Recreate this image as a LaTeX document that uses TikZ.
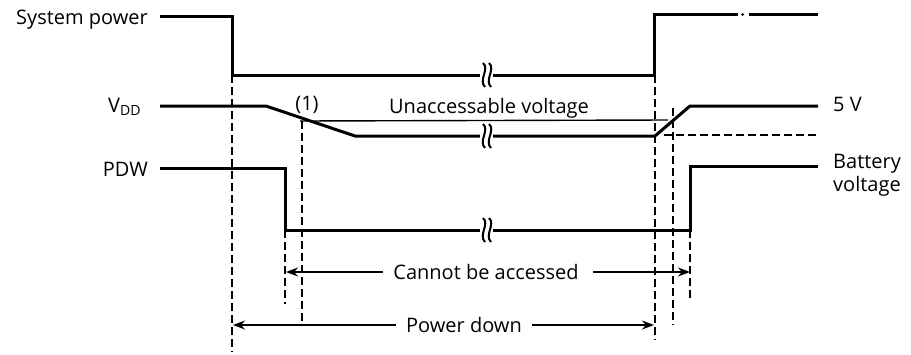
\documentclass[tikz,border=0pt]{standalone}
\usepackage{fontspec}
\setmainfont{Open Sans}
\usetikzlibrary{arrows.meta}
\tikzset{
  sig/.style={line width=3pt, line join=miter},
  thin/.style={line width=1.4pt},
  guide/.style={line width=1.6pt, dash pattern=on 8pt off 4pt},
  dim/.style={line width=1.4pt, -{Stealth[length=12pt,width=9pt]}},
  lbl/.style={font=\fontsize{20}{23}\selectfont, inner sep=0pt},
  brk/.style={line width=2pt}
}
\newcommand{\brkmark}[2]{%
  \fill[white] (#1-6,#2-3) rectangle (#1+7,#2+3);
  \draw[brk] (#1-3,#2-12) .. controls (#1+4,#2-6) and (#1-8,#2+5) .. (#1-1,#2+12);
  \draw[brk] (#1+3,#2-12) .. controls (#1+10,#2-6) and (#1-2,#2+5) .. (#1+5,#2+12);
}
\begin{document}
\begin{tikzpicture}[x=1pt,y=-1pt]
\useasboundingbox (0,0) rectangle (911,354);
% labels
\node[lbl, anchor=base east] (sp) at (148,24) {System power};
\node[lbl, anchor=base west] (vdd) at (108,112) {V\textsubscript{DD}};
\node[lbl, anchor=base east] (pdw) at (148,176) {PDW};
\node[lbl, anchor=base west] (fv) at (833,111) {5 V};
\node[lbl, anchor=west, align=left] (bv) at (833,175) {Battery\\voltage};
\node[lbl, anchor=base] (one) at (307,110) {(1)};
\node[lbl, anchor=base] (ua) at (489,113) {Unaccessable voltage};
\node[lbl, anchor=base] (cba) at (486,279) {Cannot be accessed};
\node[lbl, anchor=base] (pd) at (464,332) {Power down};
% coordinates
\coordinate (s0) at (160,16);
\coordinate (s1) at (232,16);
\coordinate (s2) at (232,75);
\coordinate (s3) at (654,75);
\coordinate (s4) at (654,14);
\coordinate (s5) at (738,14);
\coordinate (s6) at (749,14);
\coordinate (s7) at (818,14);
\coordinate (v0) at (160,106);
\coordinate (v1) at (266,106);
\coordinate (v2) at (355,136);
\coordinate (v3) at (655,136);
\coordinate (v4) at (690,106);
\coordinate (v5) at (818,106);
\coordinate (p0) at (160,168);
\coordinate (p1) at (285,168);
\coordinate (p2) at (285,230);
\coordinate (p3) at (690,230);
\coordinate (p4) at (690,166);
\coordinate (p5) at (818,166);
% signals
\draw[sig] (s0) -- (s1) -- (s2) -- (s3) -- (s4) -- (s5);
\draw[sig] (s6) -- (s7);
\fill (742.5,14.5) circle (1.5pt);
\draw[sig] (v0) -- (v1) -- (v2) -- (v3) -- (v4) -- (v5);
\draw[sig] (p0) -- (p1) -- (p2) -- (p3) -- (p4) -- (p5);
% unaccessable voltage level
\coordinate (u0) at (300,121);
\coordinate (u1) at (668,120);
\draw[thin] (u0) -- (u1);
\coordinate (d0) at (664,135);
\coordinate (d1) at (818,135);
\draw[guide] (d0) -- (d1);
% breaks
\brkmark{486}{75}
\brkmark{486}{136}
\brkmark{486}{230}
% guide lines
\coordinate (g1a) at (232,75);  \coordinate (g1b) at (232,352);
\coordinate (g2a) at (302,121); \coordinate (g2b) at (302,325);
\coordinate (g3a) at (285,230); \coordinate (g3b) at (285,304);
\coordinate (g4a) at (655,75);  \coordinate (g4b) at (655,340);
\coordinate (g5a) at (673,108); \coordinate (g5b) at (673,325);
\coordinate (g6a) at (690,230); \coordinate (g6b) at (690,300);
\foreach \a/\b in {g1a/g1b,g2a/g2b,g3a/g3b,g4a/g4b,g5a/g5b,g6a/g6b}
  \draw[guide] (\a) -- (\b);
% dimension arrows
\coordinate (c0) at (286,272);
\coordinate (c1) at (690,272);
\coordinate (w0) at (233,325);
\coordinate (w1) at (654,325);
\draw[dim] (cba.west |- c0) ++(-10,0) -- (c0);
\draw[dim] (cba.east |- c1) ++(14,0) -- (c1);
\draw[dim] (pd.west |- w0) ++(-10,0) -- (w0);
\draw[dim] (pd.east |- w1) ++(10,0) -- (w1);
\end{tikzpicture}
\end{document}
